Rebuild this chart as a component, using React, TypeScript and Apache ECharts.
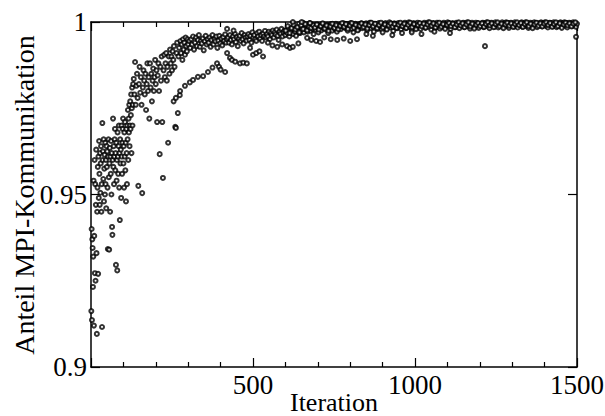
import React, { useEffect, useRef } from "react";
import * as echarts from "echarts";

// Axis settings / tick labels
const xMin = 0;
const xMax = 1500;
const xInterval = 500;
const yMin = 0.9;
const yMax = 1;
const yInterval = 0.05;
const yTickLabels = ["0.9", "0.95", "1"];

// Values are given in units of 1/10000 (9500 = 0.95)
// Iterations 1..130, one per iteration
const earlyStart = 1;
const earlyStep = 1;
const earlyValues = [
  9162, 9400, 9136, 9370, 9345, 9232, 9320, 9540, 9120, 9380,
  9600, 9272, 9530, 9250, 9470, 9630, 9330, 9096, 9450, 9520,
  9580, 9270, 9610, 9490, 9655, 9560, 9470, 9620, 9505, 9590,
  9640, 9450, 9530, 9116, 9707, 9600, 9625, 9545, 9660, 9480,
  9575, 9615, 9500, 9650, 9530, 9600, 9460, 9640, 9580, 9625,
  9520, 9342, 9610, 9660, 9550, 9340, 9590, 9635, 9450, 9610,
  9560, 9655, 9500, 9620, 9406, 9383, 9600, 9720, 9580, 9640,
  9530, 9610, 9660, 9690, 9570, 9620, 9296, 9650, 9540, 9600,
  9280, 9680, 9610, 9560, 9640, 9700, 9520, 9620, 9426, 9660,
  9590, 9630, 9490, 9700, 9610, 9560, 9650, 9690, 9720, 9590,
  9640, 9520, 9680, 9610, 9710, 9570, 9650, 9480, 9690, 9620,
  9530, 9700, 9660, 9745, 9600, 9720, 9680, 9760, 9640, 9700,
  9770, 9690, 9730, 9790, 9620, 9750, 9810, 9700, 9760, 9820,
];

// Iterations 132..300, every second iteration
const midStart = 132;
const midStep = 2;
const midValues = [
  9835, 9790, 9884, 9760, 9815, 9850, 9780, 9525, 9820, 9870,
  9795, 9840, 9760, 9504, 9810, 9860, 9830, 9790, 9850, 9745,
  9820, 9880, 9800, 9840, 9720, 9880, 9810, 9850, 9770, 9830,
  9865, 9800, 9840, 9890, 9820, 9860, 9710, 9845, 9880, 9800,
  9617, 9870, 9830, 9900, 9710, 9548, 9860, 9905, 9840, 9880,
  9910, 9830, 9870, 9650, 9900, 9850, 9920, 9880, 9900, 9860,
  9915, 9890, 9930, 9870, 9696, 9693, 9910, 9940, 9736, 9900,
  9925, 9788, 9945, 9910, 9935, 9890, 9950, 9920, 9940, 9905,
  9955, 9930, 9915, 9950, 9935,
];

// Iterations 303..1500, every third iteration
const bandStart = 303;
const bandStep = 3;
const bandValues = [
  9945, 9925, 9950, 9935, 9958, 9920, 9940, 9955, 9930, 9948, 9962, 9928, 9945, 9938, 9952, 9918, 9944, 9960, 9935, 9950,
  9940, 9955, 9928, 9948, 9962, 9935, 9950, 9944, 9958, 9925, 9946, 9960, 9938, 9952, 9932, 9956, 9945, 9964, 9940, 9950,
  9955, 9940, 9962, 9948, 9935, 9958, 9950, 9966, 9942, 9956, 9930, 9952, 9960, 9945, 9968, 9950, 9938, 9962, 9955, 9946,
  9958, 9965, 9948, 9960, 9940, 9970, 9955, 9962, 9950, 9945, 9968, 9958, 9972, 9952, 9962, 9945, 9966, 9958, 9974, 9955,
  9965, 9958, 9972, 9950, 9968, 9962, 9975, 9955, 9970, 9964, 9978, 9960, 9948, 9972, 9966, 9980, 9958, 9970, 9975, 9962,
  9972, 9968, 9980, 9958, 9975, 9970, 9984, 9965, 9978, 9972, 9960, 9982, 9975, 9995, 9968, 9980, 9976, 9998, 9970, 9985,
  9978, 9988, 9972, 9982, 9997, 9975, 9986, 9980, 9965, 9990, 9978, 9985, 9992, 9970, 9984, 9988, 9976, 9993, 9982, 9987,
  9985, 9978, 9992, 9968, 9988, 9982, 9994, 9975, 9990, 9986, 9980, 9995, 9972, 9988, 9984, 9992, 9979, 9990, 9986, 9996,
  9988, 9982, 9994, 9975, 9990, 9986, 9997, 9980, 9992, 9970, 9988, 9995, 9984, 9990, 9978, 9993, 9987, 9996, 9982, 9991,
  9990, 9984, 9996, 9976, 9992, 9988, 9998, 9982, 9993, 9987, 9972, 9995, 9989, 9991, 9980, 9997, 9986, 9993, 9978, 9990,
  9992, 9986, 9997, 9980, 9993, 9989, 9999, 9984, 9994, 9990, 9974, 9996, 9988, 9992, 9982, 9997, 9987, 9994, 9979, 9991,
  9993, 9987, 9998, 9982, 9994, 9990, 9999, 9985, 9995, 9976, 9991, 9997, 9988, 9993, 9983, 9998, 9989, 9995, 9980, 9992,
  9994, 9988, 9998, 9983, 9995, 9991, 9999, 9986, 9996, 9978, 9992, 9997, 9989, 9994, 9984, 9998, 9990, 9995, 9981, 9993,
  9994, 9989, 9998, 9984, 9995, 9991, 9999, 9987, 9996, 9980, 9992, 9997, 9990, 9994, 9985, 9998, 9990, 9996, 9982, 9993,
  9995, 9989, 9998, 9985, 9996, 9992, 9999, 9987, 9996, 9981, 9993, 9998, 9990, 9995, 9985, 9998, 9991, 9996, 9983, 9994,
  9995, 9990, 9998, 9985, 9996, 9992, 9999, 9988, 9997, 9982, 9993, 9998, 9991, 9995, 9986, 9999, 9991, 9996, 9984, 9994,
  9995, 9990, 9999, 9986, 9996, 9992, 9999, 9988, 9997, 9983, 9993, 9998, 9991, 9995, 9986, 9999, 9992, 9996, 9984, 9994,
  9995, 9990, 9999, 9986, 9996, 9993, 9999, 9988, 9997, 9983, 9994, 9998, 9991, 9996, 9987, 9999, 9992, 9997, 9985, 9994,
  9996, 9991, 9999, 9987, 9997, 9993, 9999, 9989, 9997, 9984, 9994, 9998, 9992, 9996, 9987, 9999, 9992, 9997, 9985, 9995,
  9996, 9991, 9999, 9987, 9997, 9993, 9999, 9989, 9997, 9984, 9994, 9998, 9992, 9996, 9988, 9999, 9993, 9997, 9986, 9995,
];

// Iterations 601..1495, every sixth iteration (fills the dense upper band)
const fillStart = 601;
const fillStep = 6;
const fillValues = [
  9975, 9988, 9968, 9982, 9992, 9978, 9985, 9970, 9990, 9980, 9994, 9976, 9986, 9983, 9991,
  9984, 9993, 9978, 9988, 9996, 9981, 9990, 9974, 9987, 9995, 9983, 9991, 9979, 9989, 9997,
  9986, 9994, 9980, 9990, 9997, 9983, 9992, 9976, 9989, 9996, 9985, 9993, 9981, 9991, 9998,
  9987, 9995, 9982, 9991, 9998, 9984, 9993, 9978, 9990, 9996, 9986, 9994, 9983, 9992, 9998,
  9988, 9995, 9983, 9992, 9998, 9985, 9994, 9979, 9991, 9997, 9987, 9995, 9984, 9993, 9999,
  9989, 9996, 9984, 9993, 9998, 9986, 9994, 9980, 9992, 9997, 9988, 9995, 9985, 9993, 9999,
  9990, 9996, 9985, 9993, 9999, 9987, 9995, 9981, 9992, 9997, 9988, 9996, 9986, 9994, 9999,
  9990, 9996, 9985, 9994, 9999, 9987, 9995, 9982, 9993, 9998, 9989, 9996, 9986, 9994, 9999,
  9991, 9997, 9986, 9994, 9999, 9988, 9995, 9982, 9993, 9998, 9989, 9996, 9987, 9995, 9999,
  9991, 9997, 9986, 9994, 9999, 9988, 9996, 9983, 9993, 9998, 9990, 9996, 9987, 9995, 9999,
];

// Individual points below / above the main band
const tailIters = [
  255, 262, 275, 290, 305, 315, 330, 346, 361, 375, 389, 395, 400, 414, 420, 429, 435, 445, 460, 470,
  481, 491, 500, 510, 520, 531, 546, 560, 575, 590, 605, 614, 623, 640, 667, 680, 695, 707, 720, 740,
  760, 780, 800, 821, 850, 870, 900, 930, 960, 990, 1020, 1060, 1108, 1216, 1497,
  420, 440, 623, 650, 676,
];
const tailValues = [
  9770, 9780, 9800, 9815, 9825, 9832, 9841, 9843, 9855, 9868, 9880, 9870, 9862, 9855, 9910, 9896, 9890, 9885, 9880, 9882,
  9880, 9925, 9905, 9910, 9915, 9900, 9940, 9932, 9928, 9935, 9930, 9925, 9928, 9938, 9954, 9948, 9945, 9942, 9955, 9950,
  9948, 9952, 9945, 9950, 9965, 9960, 9970, 9962, 9968, 9970, 9965, 9972, 9968, 9930, 9957,
  9980, 9975, 10000, 10000, 9997,
];

const UNIT = 10000;

const FONT = "'Liberation Serif', 'Times New Roman', serif";

function buildPoints(): number[][] {
  const pts: number[][] = [];
  earlyValues.forEach((v, i) => pts.push([earlyStart + i * earlyStep, v / UNIT]));
  midValues.forEach((v, i) => pts.push([midStart + i * midStep, v / UNIT]));
  bandValues.forEach((v, i) => pts.push([bandStart + i * bandStep, v / UNIT]));
  fillValues.forEach((v, i) => pts.push([fillStart + i * fillStep, v / UNIT]));
  tailIters.forEach((x, i) => pts.push([x, tailValues[i] / UNIT]));
  return pts;
}

export default function App() {
  const ref = useRef<HTMLDivElement>(null);

  useEffect(() => {
    if (!ref.current) return;
    const chart = echarts.init(ref.current, undefined, { renderer: "svg" });

    const lineStyle = { color: "#000", width: 1.5 };
    const baseX = {
      type: "value",
      min: xMin,
      max: xMax,
      interval: xInterval,
      axisLine: { show: true, onZero: false, lineStyle },
      axisTick: { show: true, inside: true, length: 9, lineStyle: { color: "#000", width: 1.2 } },
      minorTick: { show: true, splitNumber: 5, length: 5, lineStyle: { color: "#000", width: 1.2 } },
      splitLine: { show: false },
      minorSplitLine: { show: false },
    };
    const baseY = {
      type: "value",
      min: yMin,
      max: yMax,
      interval: yInterval,
      axisLine: { show: true, onZero: false, lineStyle },
      axisTick: { show: true, inside: true, length: 9, lineStyle: { color: "#000", width: 1.2 } },
      splitLine: { show: false },
    };

    const option: any = {
      animation: false,
      backgroundColor: "#fff",
      grid: {
        left: 91,
        right: 28,
        top: 22,
        bottom: 49,
        containLabel: false,
        outerBoundsMode: "none",
      },
      xAxis: [
        {
          ...baseX,
          position: "bottom",
          axisLabel: {
            show: true,
            margin: 4,
            color: "#000",
            fontFamily: FONT,
            fontSize: 27,
            formatter: (v: number) => (v === xMin ? "" : String(v)),
          },
        },
        {
          ...baseX,
          position: "top",
          axisLabel: { show: false },
        },
      ],
      yAxis: [
        {
          ...baseY,
          position: "left",
          axisLabel: {
            show: true,
            margin: 4,
            color: "#000",
            fontFamily: FONT,
            fontSize: 27,
            formatter: (v: number) => {
              const idx = Math.round((v - yMin) / yInterval);
              return yTickLabels[idx] ?? "";
            },
          },
        },
        {
          ...baseY,
          position: "right",
          axisLabel: { show: false },
        },
      ],
      graphic: [
        {
          type: "text",
          x: 334,
          y: 415,
          style: {
            text: "Iteration",
            font: `26px ${FONT}`,
            fill: "#000",
            textAlign: "center",
            textVerticalAlign: "bottom",
          },
        },
        {
          type: "text",
          x: 24,
          y: 195,
          rotation: Math.PI / 2,
          style: {
            text: "Anteil MPI-Kommunikation",
            font: `28px ${FONT}`,
            fill: "#000",
            textAlign: "center",
            textVerticalAlign: "middle",
          },
        },
      ],
      series: [
        {
          type: "scatter",
          xAxisIndex: 0,
          yAxisIndex: 0,
          symbol: "emptyCircle",
          symbolSize: 4,
          itemStyle: { color: "#000", borderColor: "#000", borderWidth: 1 },
          emphasis: { disabled: true },
          data: buildPoints(),
          clip: false,
        },
      ],
    };

    chart.setOption(option);
    return () => chart.dispose();
  }, []);

  return (
    <div
      ref={ref}
      style={{ position: "fixed", left: 0, top: 0, width: 605, height: 416, background: "#fff" }}
    />
  );
}
